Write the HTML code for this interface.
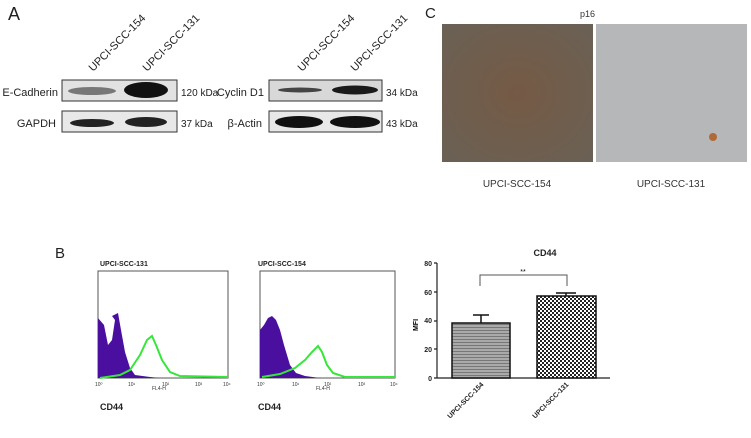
<!DOCTYPE html>
<html><head><meta charset="utf-8"><style>
html,body{margin:0;padding:0;background:#fff;}
svg{display:block;font-family:"Liberation Sans",sans-serif;}
</style></head><body>
<svg width="751" height="438" viewBox="0 0 751 438" xmlns="http://www.w3.org/2000/svg">
<defs>
<radialGradient id="br" cx="50%" cy="50%" r="70%"><stop offset="0" stop-color="#755a45"/><stop offset="1" stop-color="#6a6155"/></radialGradient>
<pattern id="chk" width="4" height="4" patternUnits="userSpaceOnUse"><rect width="4" height="4" fill="#fff"/><rect width="2" height="2" fill="#222"/><rect x="2" y="2" width="2" height="2" fill="#222"/></pattern>
<pattern id="hz" width="3" height="3" patternUnits="userSpaceOnUse"><rect width="3" height="3" fill="#aaa"/><rect width="3" height="1" fill="#777"/></pattern>
</defs>
<!-- Panel A -->
<text x="8" y="20" font-size="18" fill="#222">A</text>
<g font-size="11" fill="#222">
<text transform="translate(93,72) rotate(-45)">UPCI-SCC-154</text>
<text transform="translate(147,72) rotate(-45)">UPCI-SCC-131</text>
<text transform="translate(302,72) rotate(-45)">UPCI-SCC-154</text>
<text transform="translate(355,72) rotate(-45)">UPCI-SCC-131</text>
<text x="58" y="96" text-anchor="end">E-Cadherin</text>
<text x="56" y="127" text-anchor="end">GAPDH</text>
<text x="264" y="96" text-anchor="end">Cyclin D1</text>
<text x="262" y="127" text-anchor="end">β-Actin</text>
<text x="181" y="96" font-size="10">120 kDa</text>
<text x="181" y="127" font-size="10">37 kDa</text>
<text x="386" y="96" font-size="10">34 kDa</text>
<text x="386" y="127" font-size="10">43 kDa</text>
</g>
<rect x="62" y="80" width="115" height="21" fill="#e2e2e2" stroke="#333"/>
<ellipse cx="92" cy="91" rx="24" ry="4" fill="#777"/>
<ellipse cx="146" cy="90" rx="22" ry="8" fill="#111"/>
<rect x="62" y="111" width="115" height="21" fill="#e8e8e8" stroke="#333"/>
<ellipse cx="92" cy="123" rx="22" ry="4" fill="#222"/>
<ellipse cx="146" cy="122" rx="21" ry="5" fill="#222"/>
<rect x="269" y="80" width="113" height="21" fill="#d8d8d8" stroke="#333"/>
<ellipse cx="300" cy="90" rx="22" ry="2.5" fill="#444"/>
<ellipse cx="355" cy="90" rx="23" ry="4.5" fill="#1a1a1a"/>
<rect x="269" y="111" width="113" height="21" fill="#e8e8e8" stroke="#333"/>
<ellipse cx="299" cy="122" rx="24" ry="6" fill="#111"/>
<ellipse cx="355" cy="122" rx="25" ry="6" fill="#111"/>
<!-- Panel C -->
<text x="425" y="18" font-size="15" fill="#222">C</text>
<text x="580" y="17" font-size="9" fill="#333">p16</text>
<rect x="442" y="24" width="151" height="138" fill="url(#br)"/>
<rect x="596" y="24" width="151" height="138" fill="#b6b7b8"/>
<circle cx="713" cy="137" r="4" fill="#b06a38"/>
<text x="517" y="187" font-size="10" fill="#333" text-anchor="middle">UPCI-SCC-154</text>
<text x="671" y="187" font-size="10" fill="#333" text-anchor="middle">UPCI-SCC-131</text>
<!-- Panel B -->
<text x="55" y="258" font-size="15" fill="#222">B</text>
<g font-size="7" font-weight="bold" fill="#222">
<text x="100" y="266">UPCI-SCC-131</text>
<text x="258" y="266">UPCI-SCC-154</text>
</g>
<rect x="98" y="271" width="130" height="107" fill="#fff" stroke="#555"/>
<rect x="260" y="271" width="135" height="107" fill="#fff" stroke="#555"/>
<path d="M98 378 L98 318 L104 325 L108 345 L112 340 L115 320 L112 316 L118 313 L121 330 L125 352 L130 368 L135 375 L150 377 L160 378 Z" fill="#4b0fa0"/>
<path d="M100 378 L120 375 L130 370 L140 355 L147 340 L152 336 L156 345 L162 360 L170 372 L180 376 L228 377" fill="none" stroke="#36e63a" stroke-width="2"/>
<path d="M260 378 L260 330 L264 325 L268 318 L272 316 L276 320 L280 330 L284 345 L290 365 L296 373 L305 376 L320 378 Z" fill="#4b0fa0"/>
<path d="M262 377 L280 374 L295 368 L305 360 L312 352 L318 346 L322 352 L327 365 L333 373 L345 377 L395 377" fill="none" stroke="#36e63a" stroke-width="2"/>
<g font-size="5" fill="#333">
<text x="95" y="386">10⁰</text><text x="128" y="386">10¹</text><text x="162" y="386">10²</text><text x="195" y="386">10³</text><text x="223" y="386">10⁴</text>
<text x="152" y="390">FL4-H</text>
<text x="257" y="386">10⁰</text><text x="292" y="386">10¹</text><text x="324" y="386">10²</text><text x="358" y="386">10³</text><text x="390" y="386">10⁴</text>
<text x="316" y="390">FL4-H</text>
</g>
<g font-size="9" font-weight="bold" fill="#222">
<text x="100" y="410">CD44</text>
<text x="258" y="410">CD44</text>
</g>
<!-- bar chart -->
<text x="545" y="256" font-size="9" font-weight="bold" text-anchor="middle" fill="#222">CD44</text>
<g font-size="7" font-weight="bold" fill="#222" text-anchor="end">
<text x="432" y="266">80</text><text x="432" y="295">60</text><text x="432" y="323">40</text><text x="432" y="352">20</text><text x="432" y="381">0</text>
</g>
<text transform="translate(418,325) rotate(-90)" font-size="7" font-weight="bold" text-anchor="middle">MFI</text>
<path d="M437 263 V378 H610 M434 263 H437 M434 292 H437 M434 321 H437 M434 349 H437 M434 378 H437" stroke="#222" fill="none" stroke-width="1.2"/>
<rect x="452" y="323" width="58" height="55" fill="url(#hz)" stroke="#111" stroke-width="1.5"/>
<path d="M481 323 V315 M473 315 H489" stroke="#111" stroke-width="1.5"/>
<rect x="537" y="296" width="59" height="82" fill="url(#chk)" stroke="#111" stroke-width="1.5"/>
<path d="M566 296 V293 M556 293 H576" stroke="#111" stroke-width="1.5"/>
<path d="M480 286 V275 H567 V286" stroke="#555" fill="none"/>
<text x="523" y="274" font-size="7" text-anchor="middle">**</text>
<g font-size="7" font-weight="bold" fill="#222" text-anchor="end">
<text transform="translate(484,385) rotate(-45)">UPCI-SCC-154</text>
<text transform="translate(569,385) rotate(-45)">UPCI-SCC-131</text>
</g>
</svg>
</body></html>
